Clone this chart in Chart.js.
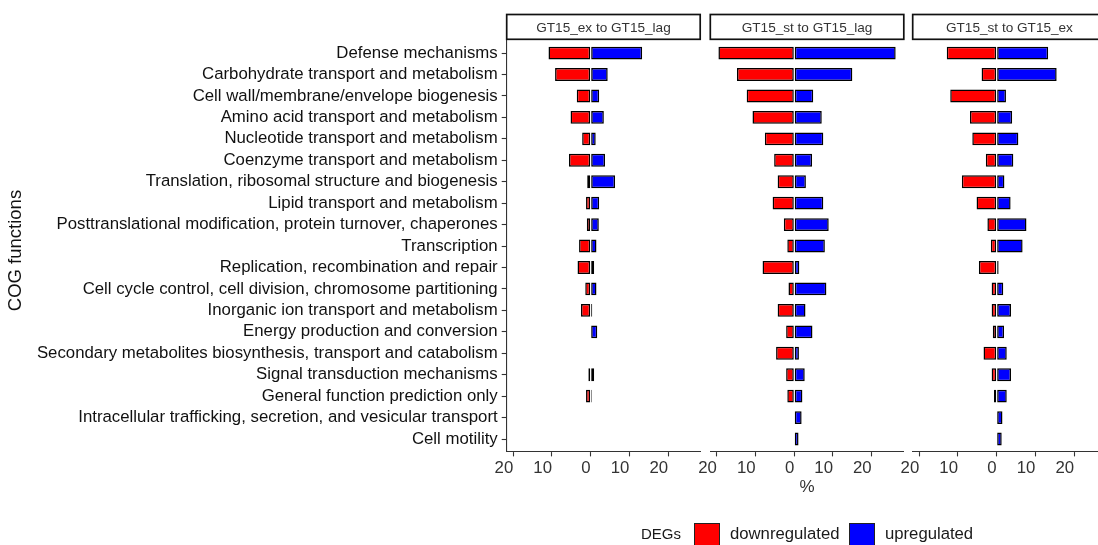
<!DOCTYPE html>
<html>
<head>
<meta charset="utf-8">
<script src="https://cdn.jsdelivr.net/npm/chart.js@4.4.1/dist/chart.umd.min.js"></script>
<style>
  html, body { margin: 0; padding: 0; background: #fff; }
  body { width: 1098px; height: 545px; overflow: hidden; position: relative;
         font-family: 'Liberation Sans', Arial, Helvetica, sans-serif; }
  canvas { position: absolute; left: 0; top: 0; }
  .lg-text { position: absolute; top: 524px; line-height: 20px; color: #1a1a1a; white-space: nowrap; }
  .lg-box { position: absolute; top: 523px; width: 26px; height: 26px; box-sizing: border-box;
            border: 1.6px solid #222; }
</style>
</head>
<body>
<canvas id="panel1" width="1110" height="545"></canvas>
<canvas id="panel2" width="1110" height="545"></canvas>
<canvas id="panel3" width="1110" height="545"></canvas>

<span class="lg-text" style="left:641px;font-size:15px;">DEGs</span>
<div class="lg-box" style="left:694px;background:#FF0000;"></div>
<span class="lg-text" style="left:730px;font-size:16.7px;">downregulated</span>
<div class="lg-box" style="left:849px;background:#0000FF;"></div>
<span class="lg-text" style="left:885px;font-size:16.7px;">upregulated</span>

<script>
// COG functional categories (top to bottom)
const categories = [
  'Defense mechanisms',
  'Carbohydrate transport and metabolism',
  'Cell wall/membrane/envelope biogenesis',
  'Amino acid transport and metabolism',
  'Nucleotide transport and metabolism',
  'Coenzyme transport and metabolism',
  'Translation, ribosomal structure and biogenesis',
  'Lipid transport and metabolism',
  'Posttranslational modification, protein turnover, chaperones',
  'Transcription',
  'Replication, recombination and repair',
  'Cell cycle control, cell division, chromosome partitioning',
  'Inorganic ion transport and metabolism',
  'Energy production and conversion',
  'Secondary metabolites biosynthesis, transport and catabolism',
  'Signal transduction mechanisms',
  'General function prediction only',
  'Intracellular trafficking, secretion, and vesicular transport',
  'Cell motility'
];

// Comparison titles
const comparisons = ['GT15_ex to GT15_lag', 'GT15_st to GT15_lag', 'GT15_st to GT15_ex'];

// Percent of DEGs per category (downregulated drawn as negative values)
const exVsLagDown = [-10.9, -9.2, -3.6, -5.2, -2.2, -5.6, -0.9, -1.2, -1.0, -3.0, -3.4, -1.4, -2.5, null, null, -0.6, -1.2, null, null];
const exVsLagUp   = [13.3, 4.4, 2.2, 3.4, 1.3, 3.7, 6.3, 2.2, 2.1, 1.5, 0.9, 1.5, 0.4, 1.7, null, 0.9, 0.3, null, null];

const stVsLagDown = [-19.6, -14.8, -12.3, -10.8, -7.6, -5.2, -4.3, -5.6, -2.7, -1.8, -8.2, -1.5, -4.3, -2.1, -4.7, -2.1, -1.8, null, null];
const stVsLagUp   = [26.2, 15.0, 4.9, 7.1, 7.5, 4.6, 3.0, 7.5, 8.9, 7.9, 1.3, 8.3, 2.9, 4.7, 1.2, 2.7, 2.1, 1.9, 1.1];

const stVsExDown  = [-12.9, -3.9, -12.0, -6.9, -6.3, -2.8, -9.0, -5.2, -2.4, -1.5, -4.6, -1.3, -1.3, -1.0, -3.4, -1.3, -0.7, null, null];
const stVsExUp    = [13.3, 15.5, 2.4, 4.0, 5.6, 4.3, 2.0, 3.6, 7.7, 6.7, 0.5, 1.7, 3.7, 1.9, 2.6, 3.7, 2.6, 1.5, 1.3];

// Shared axis settings
const xTicks = [-20, -10, 0, 10, 20];
const X_MIN = -21.7, X_MAX = 28.3;
const Y_TITLE = 'COG functions';

const FONT = "'Liberation Sans', Arial, Helvetica, sans-serif";
const DOWN_COLOR = '#FF0000';
const UP_COLOR = '#0000FF';
const OUTLINE = '#000000';

// Facet strip above each panel
const stripPlugin = {
  id: 'strip',
  afterDraw(chart, args, opts) {
    const { ctx, chartArea: a } = chart;
    const top = 14.5, bottom = 39.3;
    ctx.save();
    ctx.fillStyle = '#ffffff';
    ctx.fillRect(a.left, top, a.right - a.left, bottom - top);
    ctx.lineWidth = 1.7;
    ctx.strokeStyle = '#111111';
    ctx.strokeRect(a.left, top, a.right - a.left, bottom - top);
    ctx.fillStyle = '#333333';
    ctx.font = '13.6px ' + FONT;
    ctx.textAlign = 'center';
    ctx.textBaseline = 'alphabetic';
    ctx.fillText(opts.text, (a.left + a.right) / 2, 31.8);
    if (opts.yTitle) {
      // rotated y-axis title, shared by the three panels
      ctx.translate(16, 250.5);
      ctx.rotate(-Math.PI / 2);
      ctx.fillStyle = '#111111';
      ctx.font = '18.5px ' + FONT;
      ctx.textBaseline = 'middle';
      ctx.fillText(opts.yTitle, 0, 0);
    }
    ctx.restore();
  }
};

function toPoints(values) {
  return values.map((v, i) => ({ x: v, y: i }));
}

function makePanel(canvasId, title, down, up, padLeft, padRight, first, showXTitle) {
  const yScale = {
    type: 'linear',
    reverse: true,
    min: -0.6,
    max: categories.length - 1 + 0.6,
    offset: false,
    stacked: true,
    display: first,
    afterBuildTicks: s => { s.ticks = categories.map((_, i) => ({ value: i })); },
    grid: { offset: false, drawOnChartArea: false, drawTicks: true, tickLength: 5, tickColor: '#333', tickWidth: 1.1 },
    border: { display: true, color: '#333', width: 1.1 },
    ticks: {
      autoSkip: false,
      padding: 4,
      color: '#111',
      font: { family: FONT, size: 16.8 },
      callback: v => categories[v]
    },
    title: { display: false }
  };
  if (first) yScale.afterFit = s => { s.width = 506.7; };

  const xScale = {
    type: 'linear',
    min: X_MIN,
    max: X_MAX,
    stacked: true,
    afterBuildTicks: s => { s.ticks = xTicks.map(v => ({ value: v })); },
    afterFit: s => { s.height = 545 - 451.9; },
    grid: { drawOnChartArea: false, drawTicks: true, tickLength: 4.5, tickColor: '#333', tickWidth: 1.1 },
    border: { display: true, color: '#333', width: 1.1 },
    ticks: {
      autoSkip: false,
      maxRotation: 0,
      align: 'end',
      padding: 2,
      color: '#333',
      font: { family: FONT, size: 16.8 },
      callback: v => String(Math.abs(v))
    },
    title: {
      display: showXTitle,
      text: '%',
      color: '#333',
      font: { family: FONT, size: 17 },
      padding: { top: 0, bottom: 47 }
    }
  };

  return new Chart(document.getElementById(canvasId), {
    type: 'bar',
    data: {
      datasets: [
        {
          label: 'downregulated',
          data: toPoints(down),
          backgroundColor: DOWN_COLOR,
          borderColor: OUTLINE,
          borderWidth: 1.5,
          borderSkipped: false,
          stack: 'deg',
          barPercentage: 0.6,
          categoryPercentage: 1.0
        },
        {
          label: 'upregulated',
          data: toPoints(up),
          backgroundColor: UP_COLOR,
          borderColor: OUTLINE,
          borderWidth: 1.5,
          borderSkipped: false,
          stack: 'deg',
          barPercentage: 0.6,
          categoryPercentage: 1.0
        }
      ]
    },
    options: {
      indexAxis: 'y',
      responsive: false,
      animation: false,
      events: [],
      layout: { padding: { left: padLeft, right: padRight, top: 40.2, bottom: 0 } },
      scales: { x: xScale, y: yScale },
      plugins: {
        legend: { display: false },
        tooltip: { enabled: false },
        strip: { text: title, yTitle: first ? Y_TITLE : null }
      }
    },
    plugins: [stripPlugin]
  });
}

makePanel('panel1', comparisons[0], exVsLagDown, exVsLagUp, 0, 1110 - 700.2, true, false);
makePanel('panel2', comparisons[1], stVsLagDown, stVsLagUp, 710.3, 1110 - 903.8, false, true);
makePanel('panel3', comparisons[2], stVsExDown, stVsExUp, 912.7, 1110 - 1106.2, false, false);
</script>
</body>
</html>
